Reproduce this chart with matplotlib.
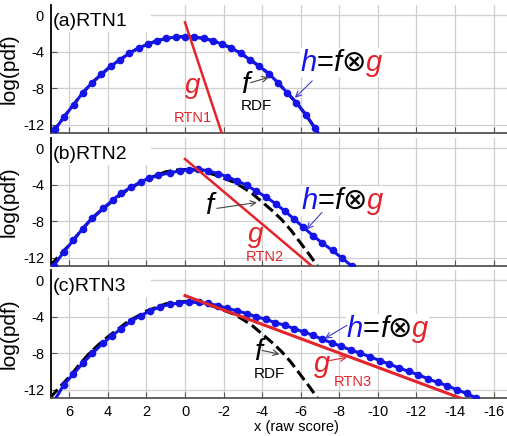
import matplotlib.pyplot as plt
from matplotlib.offsetbox import TextArea, HPacker, AnnotationBbox
from matplotlib.patches import Rectangle

plt.rcParams['font.family'] = ['Liberation Sans', 'DejaVu Sans']
plt.rcParams['axes.unicode_minus'] = False

# h = f (x) g (x axis runs from +7 to -17)
h_a_x = [6.95, 6.74, 6.26, 5.78, 5.30, 4.82, 4.34, 3.86, 3.38, 2.90, 2.41, 1.93, 1.45, 0.96, 0.48, 0.0,
         -0.48, -0.96, -1.45, -1.93, -2.41, -2.90, -3.38, -3.86, -4.34, -4.82, -5.30, -5.78, -6.27, -6.75, -7.0]
h_a_y = [-13.0, -12.5, -11.1, -9.8, -8.5, -7.4, -6.5, -5.6, -4.9, -4.2, -3.6, -3.2, -2.8, -2.55, -2.4, -2.35,
         -2.4, -2.55, -2.8, -3.2, -3.6, -4.2, -4.9, -5.6, -6.4, -7.4, -8.5, -9.6, -10.9, -12.4, -13.2]

h_b_x = [6.82, 6.3, 5.8, 5.3, 4.8, 4.25, 3.75, 3.3, 2.8, 2.3, 1.85, 1.38, 0.80, 0.26, -0.22, -0.69,
         -1.21, -1.73, -2.19, -2.71, -3.19, -3.68, -4.2, -4.71, -5.18, -5.65, -6.13, -6.65, -7.13,
         -7.65, -8.12, -8.65]
h_b_y = [-12.9, -11.4, -10.1, -8.8, -7.6, -6.6, -5.7, -4.9, -4.3, -3.7, -3.3, -3.0, -2.7, -2.5, -2.35, -2.3,
         -2.5, -2.8, -3.15, -3.6, -4.05, -4.7, -5.35, -6.1, -6.9, -7.75, -8.65, -9.6, -10.4,
         -11.2, -12.0, -12.9]

h_c_x = [6.75, 6.3, 5.8, 5.3, 4.8, 4.25, 3.8, 3.3, 2.8, 2.3, 1.8, 1.3, 0.8, 0.3, -0.2, -0.72, -1.21,
         -1.73, -2.19, -2.71, -3.2, -3.68, -4.2, -4.66, -5.18, -5.65, -6.15, -6.65, -7.13, -7.6, -8.1,
         -8.6, -9.1, -9.6, -10.1, -10.6, -11.1, -11.6, -12.1, -12.6, -13.1, -13.6, -14.1, -14.6, -15.1]
h_c_y = [-13.1, -11.5, -10.3, -9.1, -8.0, -6.9, -6.1, -5.3, -4.5, -3.9, -3.35, -2.95, -2.65, -2.5, -2.38,
         -2.43, -2.56, -2.8, -3.1, -3.37, -3.66, -4.0, -4.3, -4.65, -4.95, -5.3, -5.68, -6.04, -6.5,
         -6.85, -7.25, -7.65, -8.0, -8.4, -8.8, -9.2, -9.6, -10.0, -10.35, -10.8, -11.2, -11.55, -12.0,
         -12.4, -12.9]

# f (RDF), dashed black
f_x = [7.0, 6.5, 6.0, 5.5, 5.0, 4.5, 4.0, 3.5, 3.0, 2.5, 2.0, 1.5, 1.0, 0.5, 0.0, -0.5, -1.0, -1.5,
       -2.0, -2.5, -3.0, -3.5, -4.0, -4.5, -5.0, -5.5, -6.0, -6.5, -7.0]
f_y = [-12.9, -11.7, -10.6, -9.3, -8.1, -7.1, -6.2, -5.4, -4.6, -4.0, -3.4, -3.0, -2.6, -2.4, -2.35,
       -2.4, -2.6, -2.9, -3.3, -3.7, -4.3, -5.0, -5.9, -6.8, -7.8, -9.0, -10.4, -11.8, -13.3]

# g (RTN), straight red lines
g_a_x, g_a_y = [0.0, -1.95], [-0.8, -13.2]
g_b_x, g_b_y = [0.0, -6.75], [-1.2, -13.2]
g_c_x, g_c_y = [0.0, -14.65], [-1.7, -13.2]

panel_titles = ['(a)RTN1', '(b)RTN2', '(c)RTN3']
x_ticks = [6, 4, 2, 0, -2, -4, -6, -8, -10, -12, -14, -16]
y_ticks = [-12, -8, -4, 0]

BLUE = '#1414e6'
RED = '#e3242b'

W, H = 507, 436
fig = plt.figure(figsize=(W / 100, H / 100), dpi=100)

bottoms_px = [133, 266, 398]
axes = []
for b in bottoms_px:
    ax = fig.add_axes([51 / W, 1 - b / H, 1 - 51 / W, 128 / H])
    axes.append(ax)


def h_label(ax, x, y):
    style = dict(fontsize=21)
    parts = [
        TextArea('h', textprops=dict(color=BLUE, style='italic', **style)),
        TextArea('=', textprops=dict(color='black', **style)),
        TextArea('f', textprops=dict(color='black', style='italic', **style)),
        TextArea('\u2297', textprops=dict(color='black', **style)),
        TextArea('g', textprops=dict(color=RED, style='italic', **style)),
    ]
    box = HPacker(children=parts, align='baseline', pad=0, sep=0)
    ab = AnnotationBbox(box, (x, y), xycoords='data', frameon=True, pad=0.05,
                        bboxprops=dict(facecolor='white', edgecolor='none'), zorder=4)
    ax.add_artist(ab)


def arrow(ax, tail, head, color):
    ax.annotate('', xy=head, xytext=tail,
                arrowprops=dict(arrowstyle='->', color=color, lw=0.8, shrinkA=0, shrinkB=0),
                zorder=6)


for i, ax in enumerate(axes):
    ax.set_xlim(6.95, -16.7)
    ax.set_ylim(-12.9, 1.1)
    ax.set_xticks(x_ticks)
    ax.set_yticks(y_ticks)
    ax.grid(True, color='#cfcfcf', lw=0.9)
    ax.set_axisbelow(True)
    for s in ['top', 'right']:
        ax.spines[s].set_visible(False)
    ax.spines['left'].set_color('black')
    ax.spines['left'].set_linewidth(1.3)
    ax.spines['bottom'].set_color('#555555')
    ax.spines['bottom'].set_linewidth(1.3)
    ax.tick_params(direction='in', length=4, color='#555555', labelsize=10.5, pad=5)
    if i < 2:
        ax.tick_params(labelbottom=False)
    ax.set_ylabel('log(pdf)', fontsize=15)
    ax.yaxis.set_label_coords(-0.072, 0.5)
    # white patch behind the panel title
    ax.add_patch(Rectangle((0, 0.79), 0.22, 0.21, transform=ax.transAxes,
                           facecolor='white', edgecolor='none', zorder=1.5))
    ax.text(0.004, 0.87, panel_titles[i], transform=ax.transAxes, fontsize=14,
            va='center', ha='left', zorder=3)

# (a)
ax = axes[0]
ax.plot(h_a_x, h_a_y, color='black', ls='--', lw=2.2, zorder=2)
ax.plot(h_a_x, h_a_y, color=BLUE, lw=2.2, marker='o', ms=4.5, markevery=list(range(1, len(h_a_x) - 1)), zorder=3)
ax.plot(g_a_x, g_a_y, color=RED, lw=1.8, zorder=3)
ax.text(0.0, -8.5, 'g', color=RED, fontsize=20, style='italic', ha='left', va='baseline', zorder=5)
ax.text(-0.41, -11.3, 'RTN1', color=RED, fontsize=10.5, ha='center', va='center', zorder=5)
ax.text(-3.1, -7.6, 'f', color='black', fontsize=21, style='italic', ha='center', va='center', zorder=5)
ax.text(-3.7, -10.0, 'RDF', color='black', fontsize=11, ha='center', va='center', zorder=5)
arrow(ax, (-3.4, -7.4), (-4.35, -6.8), '#444444')
h_label(ax, -8.1, -5.2)
arrow(ax, (-6.6, -7.2), (-5.7, -9.05), '#3a3ad0')

# (b)
ax = axes[1]
ax.plot(f_x, f_y, color='black', ls='--', lw=2.2, zorder=2)
ax.plot(h_b_x, h_b_y, color=BLUE, lw=2.2, marker='o', ms=4.5, zorder=3)
ax.plot(g_b_x, g_b_y, color=RED, lw=1.8, zorder=3)
ax.text(-1.25, -6.3, 'f', color='black', fontsize=21, style='italic', ha='center', va='center', zorder=5)
arrow(ax, (-1.65, -6.6), (-3.73, -5.95), '#444444')
ax.text(-3.68, -9.5, 'g', color=RED, fontsize=20, style='italic', ha='center', va='center', zorder=5)
ax.text(-4.15, -11.9, 'RTN2', color=RED, fontsize=10.5, ha='center', va='center', zorder=5)
h_label(ax, -8.15, -5.8)
arrow(ax, (-7.1, -7.05), (-6.3, -8.9), '#3a3ad0')

# (c)
ax = axes[2]
ax.plot(f_x, f_y, color='black', ls='--', lw=2.2, zorder=2)
ax.plot(h_c_x, h_c_y, color=BLUE, lw=2.2, marker='o', ms=4.5, markevery=list(range(1, len(h_c_x))), zorder=3)
ax.plot(g_c_x, g_c_y, color=RED, lw=2.2, zorder=3)
ax.text(-3.8, -7.9, 'f', color='black', fontsize=21, style='italic', ha='center', va='center', zorder=5)
ax.text(-4.35, -10.3, 'RDF', color='black', fontsize=11, ha='center', va='center', zorder=5)
arrow(ax, (-4.0, -7.7), (-4.9, -8.1), '#444444')
ax.text(-7.1, -9.2, 'g', color=RED, fontsize=21, style='italic', ha='center', va='center', zorder=5)
arrow(ax, (-7.5, -8.8), (-8.4, -8.46), RED)
ax.text(-8.7, -11.2, 'RTN3', color=RED, fontsize=10.5, ha='center', va='center', zorder=5)
h_label(ax, -10.5, -5.3)
arrow(ax, (-8.4, -4.95), (-7.25, -6.4), '#3a3ad0')

fig.text(296 / W, 1 - 427 / H, 'x (raw score)', ha='center', va='center', fontsize=10.5)

fig.savefig('out.png', dpi=100)
